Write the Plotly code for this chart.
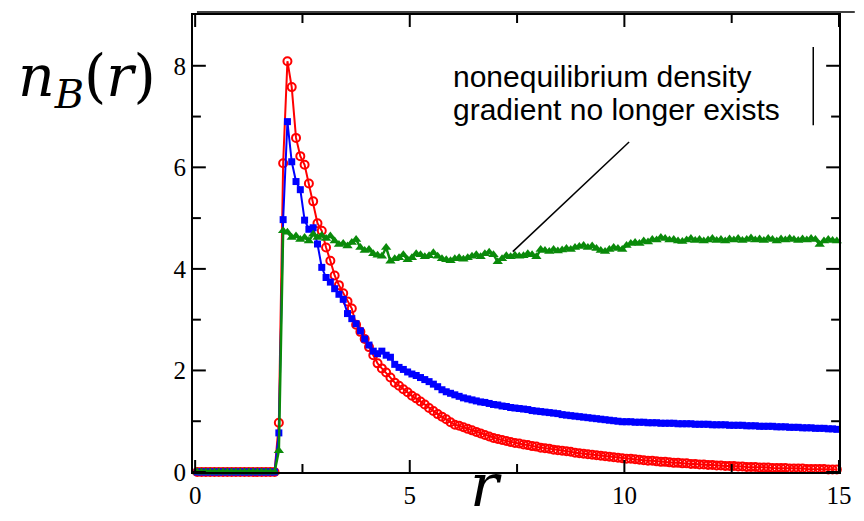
import plotly.graph_objects as go

# radial grid
r = [round(0.05 + 0.1 * i, 2) for i in range(150)]

zeros = [0.0] * 19

red_vals = zeros + [
    0.97, 6.08, 8.09, 7.58, 6.58, 6.22, 6.05, 5.68, 5.33, 4.90, 4.75, 4.42, 4.16, 3.87,
    3.68, 3.52, 3.36, 3.22, 2.90, 2.76, 2.62,
    2.46, 2.30, 2.14, 2.04, 1.96, 1.86, 1.76, 1.70, 1.63, 1.57,
    1.50, 1.45, 1.39, 1.33, 1.26, 1.20, 1.14, 1.09, 1.04, 0.98,
    0.93, 0.91, 0.88, 0.85, 0.82, 0.79, 0.76, 0.73, 0.70, 0.67,
    0.65, 0.63, 0.61, 0.59, 0.57, 0.56, 0.54, 0.53, 0.51, 0.50,
    0.48, 0.47, 0.46, 0.44, 0.43, 0.42, 0.41, 0.40, 0.38, 0.37,
    0.36, 0.35, 0.34, 0.33, 0.32, 0.31, 0.30, 0.29, 0.28, 0.27,
    0.26, 0.26, 0.25, 0.24, 0.23, 0.22, 0.22, 0.21, 0.20, 0.20,
    0.19, 0.18, 0.18, 0.17, 0.17, 0.16, 0.16, 0.15, 0.15, 0.14,
    0.14, 0.13, 0.13, 0.12, 0.12, 0.12, 0.11, 0.11, 0.10, 0.10,
    0.10, 0.09, 0.09, 0.09, 0.08, 0.08, 0.08, 0.08, 0.07, 0.07,
    0.07, 0.07, 0.06, 0.06, 0.06, 0.06, 0.06, 0.05, 0.05, 0.05,
]

blue_vals = zeros + [
    0.77, 4.97, 6.90, 6.11, 5.72, 5.56, 4.96, 4.78, 4.81, 4.49, 4.03, 3.83, 3.74, 3.61,
    3.50, 3.40, 3.12, 3.02, 2.92, 2.78, 2.62,
    2.50, 2.38, 2.33, 2.38, 2.30, 2.26, 2.12, 2.06, 2.02, 1.97,
    1.93, 1.90, 1.86, 1.82, 1.78, 1.73, 1.68, 1.62, 1.58, 1.55,
    1.52, 1.49, 1.46, 1.44, 1.42, 1.40, 1.38, 1.37, 1.35, 1.33,
    1.32, 1.30, 1.29, 1.27, 1.26, 1.25, 1.24, 1.23, 1.21, 1.20,
    1.19, 1.18, 1.17, 1.16, 1.15, 1.13, 1.12, 1.11, 1.10, 1.09,
    1.08, 1.07, 1.06, 1.05, 1.04, 1.03, 1.02, 1.01, 1.00, 0.99,
    0.99, 0.99, 0.98, 0.98, 0.98, 0.97, 0.97, 0.97, 0.96, 0.96,
    0.96, 0.96, 0.95, 0.95, 0.95, 0.95, 0.94, 0.94, 0.94, 0.94,
    0.93, 0.93, 0.93, 0.93, 0.92, 0.92, 0.92, 0.92, 0.91, 0.91,
    0.91, 0.90, 0.90, 0.90, 0.90, 0.89, 0.89, 0.89, 0.88, 0.88,
    0.88, 0.87, 0.87, 0.87, 0.86, 0.86, 0.86, 0.85, 0.85, 0.84,
]

green_vals = zeros + [
    0.42, 4.75, 4.72, 4.62, 4.65, 4.58, 4.62, 4.55, 4.68, 4.62, 4.66, 4.60, 4.65, 4.55,
    4.48, 4.50, 4.45, 4.52, 4.58, 4.42, 4.36,
    4.38, 4.30, 4.27, 4.25, 4.42, 4.15, 4.20, 4.22, 4.28, 4.18,
    4.22, 4.30, 4.28, 4.24, 4.26, 4.32, 4.25, 4.20, 4.18, 4.16,
    4.20, 4.22, 4.19, 4.22, 4.25, 4.28, 4.24, 4.30, 4.33, 4.28,
    4.14, 4.20, 4.26, 4.24, 4.27, 4.25, 4.26, 4.30, 4.28, 4.24,
    4.38, 4.36, 4.34, 4.38, 4.35, 4.37, 4.40, 4.38, 4.42, 4.44,
    4.46, 4.42, 4.45, 4.40, 4.36, 4.34, 4.38, 4.42, 4.40, 4.38,
    4.46, 4.50, 4.52, 4.50, 4.55, 4.53, 4.58, 4.57, 4.62, 4.60,
    4.57, 4.58, 4.55, 4.54, 4.57, 4.60, 4.56, 4.58, 4.55, 4.57,
    4.60, 4.56, 4.58, 4.55, 4.59, 4.57, 4.60, 4.56, 4.58, 4.61,
    4.57, 4.59, 4.56, 4.60, 4.58, 4.55, 4.59, 4.57, 4.60, 4.58,
    4.56, 4.59, 4.57, 4.60, 4.58, 4.48, 4.55, 4.58, 4.56, 4.55,
]

assert len(red_vals) == len(r) == len(blue_vals) == len(green_vals)

x_major = [0, 5, 10, 15]
x_minor = [2.5, 7.5, 12.5]
y_major = [0, 2, 4, 6, 8]
y_minor = [1, 3, 5, 7]

annot_line1 = "nonequilibrium density"
annot_line2 = "gradient no longer exists"

RED = "#ff0000"
BLUE = "#0000ff"
GREEN = "#0a8a0a"

# plot-area size in pixels (used to express tick lengths in paper units)
PW, PH = 655, 457

fig = go.Figure()
fig.add_trace(go.Scatter(
    x=r, y=red_vals, mode="lines+markers", cliponaxis=False,
    line=dict(color=RED, width=2),
    marker=dict(symbol="circle-open", size=8, color=RED, line=dict(width=2, color=RED)),
))
fig.add_trace(go.Scatter(
    x=r, y=blue_vals, mode="lines+markers", cliponaxis=False,
    line=dict(color=BLUE, width=2),
    marker=dict(symbol="square", size=7, color=BLUE),
))
fig.add_trace(go.Scatter(
    x=r, y=green_vals, mode="lines+markers", cliponaxis=False,
    line=dict(color=GREEN, width=2.5),
    marker=dict(symbol="triangle-up", size=9, color=GREEN),
))

serif = "DejaVu Serif"
tickserif = "Times New Roman, Liberation Serif, Tinos, DejaVu Serif, serif"
sans = "Liberation Sans, Arial, sans-serif"

fig.update_layout(
    xaxis=dict(
        range=[-0.05, 15.0], tickmode="array", tickvals=x_major,
        ticktext=[str(v) for v in x_major], ticks="",
        showline=True, linecolor="black", linewidth=2, mirror=True,
        showgrid=False, zeroline=False,
        tickfont=dict(family=tickserif, size=25, color="black"),
    ),
    yaxis=dict(
        range=[0, 9.0], tickmode="array", tickvals=y_major,
        ticktext=[str(v) for v in y_major], ticks="",
        showline=True, linecolor="black", linewidth=2, mirror=True,
        showgrid=False, zeroline=False,
        tickfont=dict(family=tickserif, size=25, color="black"),
    ),
)

shapes = []
tick_line = dict(color="black", width=2)
for vals, ln in ((x_major, 12), (x_minor, 8)):
    for v in vals:
        shapes.append(dict(type="line", xref="x", yref="paper", x0=v, x1=v,
                           y0=0, y1=ln / PH, line=tick_line))
        shapes.append(dict(type="line", xref="x", yref="paper", x0=v, x1=v,
                           y0=1, y1=1 - ln / PH, line=tick_line))
for vals, ln in ((y_major, 13), (y_minor, 8)):
    for v in vals:
        shapes.append(dict(type="line", xref="paper", yref="y", y0=v, y1=v,
                           x0=0, x1=ln / PW, line=tick_line))
        shapes.append(dict(type="line", xref="paper", yref="y", y0=v, y1=v,
                           x0=1, x1=1 - ln / PW, line=tick_line))

shapes += [
    dict(type="line", xref="x", yref="y", x0=10.11, y0=6.50, x1=7.40, y1=4.34,
         line=dict(color="black", width=1.5)),
    dict(type="line", xref="x", yref="y", x0=14.4, y0=8.37, x1=14.4, y1=6.83,
         line=dict(color="black", width=1.5)),
    dict(type="line", xref="paper", yref="paper", x0=(197 - 193) / PW, y0=(472 - 12) / PH,
         x1=(864 - 193) / PW, y1=(472 - 12) / PH, line=dict(color="black", width=1.5)),
]

annotations = [
    dict(xref="paper", yref="paper", x=(14 - 193) / PW, y=(472 - 80) / PH,
         xanchor="left", yanchor="middle", showarrow=False,
         text="<i>n</i><sub><i>B</i></sub>(<i>r</i>)",
         font=dict(family=serif, size=57, color="black")),
    dict(xref="paper", yref="paper", x=(490 - 193) / PW, y=(472 - 522) / PH,
         xanchor="center", yanchor="bottom", showarrow=False,
         text="<i>r</i>", font=dict(family=serif, size=60, color="black")),
    dict(xref="paper", yref="paper", x=(455 - 193) / PW, y=(472 - 77) / PH,
         xanchor="left", yanchor="middle", showarrow=False,
         text=annot_line1, font=dict(family=sans, size=30, color="black")),
    dict(xref="paper", yref="paper", x=(455 - 193) / PW, y=(472 - 110) / PH,
         xanchor="left", yanchor="middle", showarrow=False,
         text=annot_line2, font=dict(family=sans, size=30, color="black")),
]

fig.update_layout(
    width=864, height=521,
    margin=dict(l=193, r=16, t=15, b=49),
    paper_bgcolor="white", plot_bgcolor="white",
    showlegend=False,
    annotations=annotations, shapes=shapes,
)

fig.write_html("out.html")
